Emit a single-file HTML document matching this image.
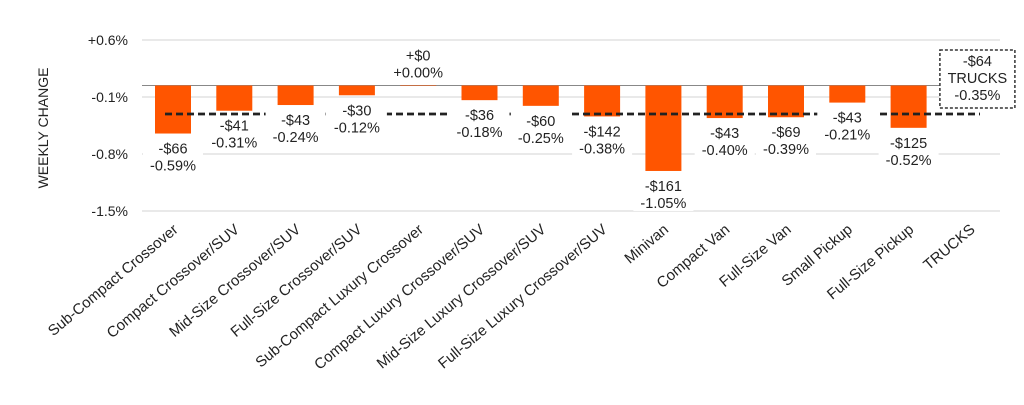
<!DOCTYPE html>
<html><head><meta charset="utf-8"><style>
body{margin:0;background:#fff}
svg{display:block;font-family:"Liberation Sans",Arial,sans-serif}
</style></head><body>
<svg id="chart" width="1024" height="405">
<text transform="translate(48,128) rotate(-90)" text-anchor="middle" font-size="14" fill="#222">WEEKLY CHANGE</text>
<g id="grid"></g><g id="bars"></g><g id="avg"></g><g id="labels"></g><g id="xlabels"></g>
</svg>
<script>
const categories=["Sub-Compact Crossover","Compact Crossover/SUV","Mid-Size Crossover/SUV","Full-Size Crossover/SUV","Sub-Compact Luxury Crossover","Compact Luxury Crossover/SUV","Mid-Size Luxury Crossover/SUV","Full-Size Luxury Crossover/SUV","Minivan","Compact Van","Full-Size Van","Small Pickup","Full-Size Pickup","TRUCKS"];
const pctValues=[-0.59,-0.31,-0.24,-0.12,0.00,-0.18,-0.25,-0.38,-1.05,-0.40,-0.39,-0.21,-0.52,-0.35];
const dollarValues=[-66,-41,-43,-30,0,-36,-60,-142,-161,-43,-69,-43,-125,-64];
const avgValue=-0.35;
const tickValues=[0.6,-0.1,-0.8,-1.5];
const NS="http://www.w3.org/2000/svg";
const y=v=>85.5-v*81.4;
const x=i=>173+i*61.3;
function mk(tag,attrs,parent,txt){const e=document.createElementNS(NS,tag);for(const k in attrs)e.setAttribute(k,attrs[k]);if(txt!==undefined)e.textContent=txt;document.getElementById(parent).appendChild(e);return e;}
const fmtP=v=>(v>=0?"+":"-")+Math.abs(v).toFixed(2)+"%";
const fmtD=v=>(v>=0?"+$":"-$")+Math.abs(v);
const fmtT=v=>(v>=0?"+":"-")+Math.abs(v).toFixed(1)+"%";
tickValues.forEach(t=>{
  const yy=40+(0.6-t)*81.4;
  const l=mk('line',{x1:142,x2:1000,y1:yy,y2:yy,stroke:'#e2e2e2','stroke-width':1.5},'grid');
  
  
  const tx=mk('text',{x:128,y:yy+5,'text-anchor':'end','font-size':14,fill:'#222'},'grid',fmtT(t));
  
  
});
const z=mk('line',{x1:142,x2:1000,y1:y(0),y2:y(0),stroke:'#888','stroke-width':1},'grid');


const av=mk('line',{x1:165,x2:980,y1:y(avgValue),y2:y(avgValue),stroke:'#222','stroke-width':2.8,'stroke-dasharray':'7,4'},'avg');


categories.forEach((c,i)=>{
  const v=pctValues[i],cx=x(i);
  if(i<13){
    const top=Math.min(y(0),y(v)),h=Math.abs(y(v)-y(0));
    const r=mk('rect',{x:cx-18,y:top,width:36,height:Math.max(h,0.5),fill:'#ff5500'},'bars');
    
    
    const base=v<0?y(v)+5:y(0)-40;
    const bg=mk('rect',{x:cx-30,y:base,width:60,height:35,fill:'#fff'},'labels');
    
    
    const t1=mk('text',{x:cx,y:base+15,'text-anchor':'middle','font-size':14.5,fill:'#222'},'labels',fmtD(dollarValues[i]));
    
    
    const t2=mk('text',{x:cx,y:base+32,'text-anchor':'middle','font-size':14.5,fill:'#222'},'labels',fmtP(v));
    
    
  } else {
    const b=mk('rect',{x:cx-30,y:50,width:75,height:58,fill:'#fff',stroke:'#333','stroke-width':1.5,'stroke-dasharray':'3,2'},'labels');
    
    
    [fmtD(dollarValues[i]),'TRUCKS',fmtP(v)].forEach((s,k)=>{
      const t=mk('text',{x:cx+7.5,y:66+k*17,'text-anchor':'middle','font-size':14.5,fill:'#222'},'labels',s);
      
      
    });
  }
  const xl=mk('text',{transform:`translate(${cx+6},231) rotate(-40)`,'text-anchor':'end','font-size':15,fill:'#222'},'xlabels',c);
  
  
});
</script>
</body></html>
